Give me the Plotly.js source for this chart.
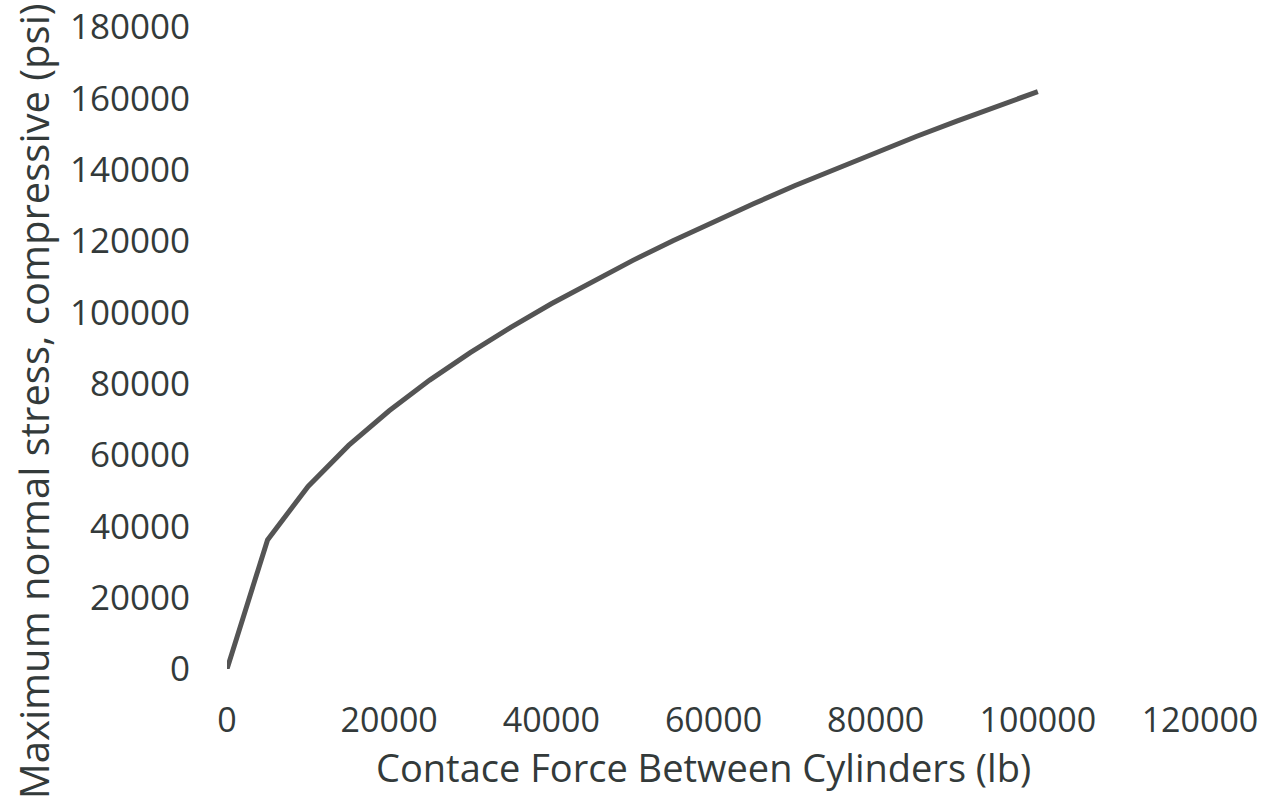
<!DOCTYPE html>
<html>
<head>
<meta charset="utf-8">
<script src="https://cdn.plot.ly/plotly-3.0.1.min.js"></script>
<style>
  html, body { margin: 0; padding: 0; background: #ffffff; }
  #chart { width: 1272px; height: 810px; }
</style>
</head>
<body>
<div id="chart"></div>
<script>
// Contact force (lb)
var contactForce = [0, 5000, 10000, 15000, 20000, 25000, 30000, 35000, 40000, 45000, 50000,
                    55000, 60000, 65000, 70000, 75000, 80000, 85000, 90000, 95000, 100000];
// Maximum normal stress, compressive (psi)
var maxStress = [0, 36200, 51200, 62700, 72400, 81000, 88700, 95800, 102400, 108600, 114500,
                 120100, 125400, 130500, 135500, 140200, 144800, 149300, 153600, 157800, 161900];

var xTicks = [0, 20000, 40000, 60000, 80000, 100000, 120000];
var yTicks = [0, 20000, 40000, 60000, 80000, 100000, 120000, 140000, 160000, 180000];

var xTitle = 'Contace Force Between Cylinders (lb)';
var yTitle = 'Maximum normal stress, compressive (psi)';

var fontFamily = "'Open Sans', 'Noto Sans', sans-serif";
var textColor = "#333a3a";

var trace = {
  x: contactForce,
  y: maxStress,
  type: 'scatter',
  mode: 'lines',
  line: { color: '#545454', width: 5 },
  hoverinfo: 'x+y'
};

var layout = {
  width: 1272,
  height: 810,
  paper_bgcolor: '#ffffff',
  plot_bgcolor: '#ffffff',
  showlegend: false,
  margin: { l: 227, r: 72, t: 27, b: 141, pad: 0 },
  font: { family: fontFamily, color: textColor, size: 35 },
  xaxis: {
    range: [0, 120000],
    tickvals: xTicks,
    ticktext: xTicks.map(String),
    showgrid: false,
    zeroline: false,
    showline: false,
    ticks: '',
    ticklabelstandoff: 28,
    tickfont: { family: fontFamily, size: 34, color: textColor }
  },
  yaxis: {
    range: [0, 180000],
    tickvals: yTicks,
    ticktext: yTicks.map(String),
    showgrid: false,
    zeroline: false,
    showline: false,
    ticks: '',
    ticklabelstandoff: 36,
    tickfont: { family: fontFamily, size: 35, color: textColor }
  },
  annotations: [
    {
      text: xTitle, xref: 'paper', yref: 'paper',
      x: 0.4902, y: -0.1526, xanchor: 'center', yanchor: 'middle',
      showarrow: false, font: { family: fontFamily, size: 38, color: textColor }
    },
    {
      text: yTitle, xref: 'paper', yref: 'paper', textangle: -90,
      x: -0.1995, y: 0.417, xanchor: 'center', yanchor: 'middle',
      showarrow: false, font: { family: fontFamily, size: 40, color: textColor }
    }
  ]
};

Plotly.newPlot('chart', [trace], layout, { displayModeBar: false, staticPlot: true });
</script>
</body>
</html>
